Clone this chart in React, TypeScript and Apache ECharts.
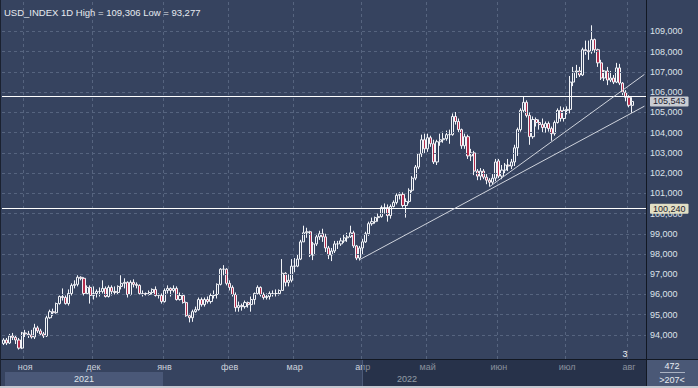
import React, { useEffect, useRef } from 'react';
import * as echarts from 'echarts';

const TITLE = 'USD_INDEX 1D High = 109,306 Low = 93,277';
const MONTH_LABELS = ['', 'ноя', 'дек', 'янв', 'фев', 'мар', 'апр', 'май', 'июн', 'июл', 'авг'];
const YEAR_LABELS = ['2021', '2022'];
const PRICE_TICKS = [94, 95, 96, 97, 98, 99, 100, 101, 102, 103, 104, 105, 106, 107, 108, 109];
const LEVEL_HIGH = 105.79;
const LEVEL_LOW = 100.24;
const BID = 105.543;
// trend lines: [barIndex, price] pairs
const TREND_LOWER = [[115, 97.72], [207, 105.31]];
const TREND_UPPER = [[157, 101.33], [207, 106.88]];
const PAD_BARS = 4;
const BOTTOM_BADGE = ['472', '>207<'];
const SCALE_MARK = '3';

// each bar: [open, close, low, high]
const BARS_OCT = [
  [93.58, 93.75, 93.5, 93.84], [93.75, 93.6, 93.5, 93.85], [93.6, 93.95, 93.55, 94.05],
  [93.95, 93.88, 93.75, 94.1], [93.88, 93.75, 93.55, 94.0], [93.75, 93.35, 93.277, 93.85],
  [93.35, 94.1, 93.3, 94.15],
];
const BARS_NOV = [
  [94.1, 94.05, 93.9, 94.25], [94.05, 94.0, 93.85, 94.2], [94.0, 93.9, 93.82, 94.25],
  [93.9, 94.35, 93.8, 94.55], [94.35, 94.2, 94.1, 94.45], [94.2, 94.05, 93.95, 94.3],
  [94.05, 93.95, 93.85, 94.15], [93.95, 94.85, 93.9, 94.95], [94.85, 95.15, 94.8, 95.25],
  [95.15, 95.1, 94.95, 95.3], [95.1, 95.55, 95.05, 95.6], [95.55, 95.9, 95.5, 95.95],
  [95.9, 95.85, 95.7, 96.3], [95.85, 95.55, 95.5, 95.95], [95.55, 96.05, 95.45, 96.25],
  [96.05, 96.45, 95.95, 96.55], [96.45, 96.5, 96.3, 96.7], [96.5, 96.85, 96.4, 96.95],
  [96.85, 96.8, 96.7, 96.9], [96.8, 96.05, 95.95, 96.85], [96.05, 96.35, 96.0, 96.45],
  [96.35, 95.95, 95.55, 96.45],
];
const BARS_DEC = [
  [95.95, 96.05, 95.75, 96.4], [96.05, 96.15, 95.85, 96.25], [96.15, 96.15, 95.9, 96.35],
  [96.15, 96.3, 96.05, 96.7], [96.3, 95.9, 95.85, 96.4], [95.9, 96.35, 95.85, 96.45],
  [96.35, 96.15, 95.95, 96.45], [96.15, 96.1, 96.0, 96.4], [96.1, 96.4, 96.0, 96.45],
  [96.4, 96.55, 96.25, 96.95], [96.55, 96.6, 96.3, 96.8], [96.6, 96.0, 95.85, 96.65],
  [96.0, 96.6, 95.95, 96.7], [96.6, 96.5, 96.35, 96.75], [96.5, 96.45, 96.3, 96.6],
  [96.45, 96.05, 96.0, 96.5], [96.05, 96.05, 95.9, 96.2], [96.05, 96.0, 95.95, 96.1],
  [96.0, 96.1, 95.95, 96.2], [96.1, 96.25, 96.0, 96.3], [96.25, 95.95, 95.9, 96.4],
  [95.95, 95.95, 95.8, 96.05], [95.95, 95.65, 95.55, 96.05],
];
const BARS_JAN = [
  [95.65, 96.2, 95.6, 96.3], [96.2, 96.3, 96.05, 96.45], [96.3, 96.2, 95.9, 96.35],
  [96.2, 96.3, 96.1, 96.45], [96.3, 95.75, 95.7, 96.4], [95.75, 95.95, 95.7, 96.1],
  [95.95, 95.6, 95.55, 96.05], [95.6, 94.95, 94.9, 95.65], [94.95, 94.85, 94.62, 95.05],
  [94.85, 95.15, 94.65, 95.25], [95.15, 95.25, 95.1, 95.4], [95.25, 95.75, 95.2, 95.85],
  [95.75, 95.5, 95.4, 95.85], [95.5, 95.75, 95.4, 95.85], [95.75, 95.65, 95.55, 95.9],
  [95.65, 95.95, 95.55, 96.05], [95.95, 96.0, 95.8, 96.2], [96.0, 96.5, 95.8, 96.55],
  [96.5, 97.25, 96.45, 97.3], [97.25, 97.25, 96.95, 97.45], [97.25, 96.55, 96.45, 97.3],
];
const BARS_FEB = [
  [96.55, 96.35, 96.2, 96.7], [96.35, 96.0, 95.9, 96.45], [96.0, 95.35, 95.15, 96.1],
  [95.35, 95.45, 95.15, 95.65], [95.45, 95.4, 95.2, 95.55], [95.4, 95.6, 95.3, 95.7],
  [95.6, 95.5, 95.35, 95.65], [95.5, 95.75, 95.15, 95.9], [95.75, 96.05, 95.5, 96.1],
  [96.05, 96.35, 96.0, 96.45], [96.35, 96.0, 95.9, 96.4], [96.0, 95.85, 95.75, 96.1],
  [95.85, 95.9, 95.75, 96.05], [95.9, 96.05, 95.75, 96.15], [96.05, 96.05, 95.9, 96.2],
  [96.05, 96.05, 95.9, 96.25], [96.05, 96.2, 95.95, 96.25], [96.2, 97.05, 96.2, 97.75],
  [97.05, 96.6, 96.4, 97.1], [96.6, 96.7, 96.4, 97.0], [96.7, 97.4, 96.6, 97.75],
];
const BARS_MAR = [
  [97.4, 97.4, 97.1, 97.8], [97.4, 97.75, 97.35, 98.0], [97.75, 98.6, 97.7, 98.7],
  [98.6, 99.05, 98.6, 99.4], [99.05, 99.1, 98.8, 99.3], [99.1, 97.95, 97.85, 99.15],
  [97.95, 98.5, 97.7, 98.6], [98.5, 98.85, 98.4, 99.0], [98.85, 99.0, 98.7, 99.15],
  [99.0, 98.85, 98.6, 99.25], [98.85, 98.3, 98.1, 99.0], [98.3, 97.95, 97.75, 98.4],
  [97.95, 98.15, 97.65, 98.3], [98.15, 98.5, 98.05, 98.65], [98.5, 98.5, 98.25, 98.65],
  [98.5, 98.65, 98.4, 98.8], [98.65, 98.8, 98.55, 98.95], [98.8, 98.85, 98.6, 99.05],
  [98.85, 99.05, 98.8, 99.4], [99.05, 98.4, 98.3, 99.15], [98.4, 97.8, 97.7, 98.45],
  [97.8, 98.3, 97.68, 98.4],
];
const BARS_APR = [
  [98.3, 98.6, 97.95, 98.75], [98.6, 99.0, 98.55, 99.1], [99.0, 99.5, 98.9, 99.6],
  [99.5, 99.6, 99.4, 99.8], [99.6, 99.8, 99.5, 99.85], [99.8, 99.85, 99.6, 100.0],
  [99.85, 100.3, 99.8, 100.4], [100.3, 100.3, 100.0, 100.5], [100.3, 99.9, 99.6, 100.45],
  [99.9, 100.35, 99.75, 100.45], [100.35, 100.55, 100.3, 100.65], [100.55, 100.9, 100.45, 101.0],
  [100.9, 100.95, 100.7, 101.05], [100.95, 100.4, 100.3, 101.05], [100.4, 100.6, 99.8, 100.75],
  [100.6, 101.15, 100.5, 101.25], [101.15, 101.75, 101.05, 101.85], [101.75, 102.3, 101.65, 102.4],
  [102.3, 102.95, 102.2, 103.0], [102.95, 103.65, 102.8, 103.9], [103.65, 103.2, 102.95, 103.95],
];
const BARS_MAY = [
  [103.2, 103.75, 103.05, 103.95], [103.75, 103.45, 103.3, 103.85], [103.45, 102.55, 102.45, 103.65],
  [102.55, 103.55, 102.4, 103.65], [103.55, 103.65, 103.35, 103.95], [103.65, 103.7, 103.5, 104.05],
  [103.7, 103.9, 103.6, 104.1], [103.9, 103.9, 103.45, 104.15], [103.9, 104.8, 103.85, 104.95],
  [104.8, 104.55, 104.4, 105.02], [104.55, 104.15, 104.0, 104.7], [104.15, 103.35, 103.2, 104.2],
  [103.35, 103.8, 103.2, 103.95], [103.8, 102.85, 102.7, 103.9], [102.85, 103.0, 102.6, 103.2],
  [103.0, 102.1, 101.9, 103.1], [102.1, 101.85, 101.65, 102.2], [101.85, 102.1, 101.65, 102.25],
  [102.1, 101.8, 101.7, 102.2], [101.8, 101.65, 101.45, 101.95], [101.65, 101.55, 101.33, 101.75],
  [101.55, 101.75, 101.45, 101.95], [101.75, 102.55, 101.6, 102.7],
];
const BARS_JUN = [
  [102.6, 101.85, 101.75, 102.7], [101.85, 102.15, 101.7, 102.4], [102.15, 102.4, 102.0, 102.5],
  [102.4, 102.35, 102.1, 102.7], [102.35, 102.55, 102.2, 102.7], [102.55, 103.25, 102.35, 103.4],
  [103.25, 104.15, 102.85, 104.25], [104.15, 105.1, 104.05, 105.2], [105.1, 105.5, 105.0, 105.78],
  [105.5, 104.85, 104.75, 105.6], [104.85, 103.8, 103.4, 105.0], [103.8, 104.65, 103.7, 104.8],
  [104.65, 104.5, 104.3, 104.75], [104.5, 104.4, 104.15, 104.65], [104.4, 104.25, 104.0, 104.7],
  [104.25, 104.45, 104.0, 104.55], [104.45, 104.2, 104.05, 104.55], [104.2, 103.95, 103.6, 104.3],
  [103.95, 104.5, 103.85, 104.6], [104.5, 105.1, 104.45, 105.2], [105.1, 104.7, 104.55, 105.3],
  [104.7, 105.1, 104.55, 105.25],
];
const BARS_JUL = [
  [105.1, 105.15, 104.9, 105.3], [105.15, 106.5, 104.95, 106.8], [106.5, 107.0, 106.3, 107.25],
  [107.0, 107.05, 106.7, 107.35], [107.05, 106.85, 106.75, 107.25], [106.85, 108.1, 106.8, 108.2],
  [108.1, 108.05, 107.85, 108.55], [108.05, 108.0, 107.6, 108.55], [108.0, 108.6, 107.9, 109.306],
  [108.6, 108.1, 107.95, 108.65], [108.1, 107.45, 107.25, 108.15], [107.45, 106.7, 106.6, 107.6],
  [106.7, 107.05, 106.55, 107.1], [107.05, 106.6, 106.35, 107.25], [106.6, 106.7, 106.5, 107.05],
  [106.7, 106.5, 106.4, 106.85], [106.5, 107.2, 106.45, 107.45], [107.2, 106.45, 106.35, 107.4],
  [106.45, 106.0, 105.85, 106.5], [106.0, 105.75, 105.55, 106.1],
];
const BARS_AUG = [
  [105.75, 105.35, 105.25, 105.85], [105.35, 105.543, 104.98, 105.75],
];

const MONTH_BARS = [BARS_OCT, BARS_NOV, BARS_DEC, BARS_JAN, BARS_FEB, BARS_MAR, BARS_APR, BARS_MAY, BARS_JUN, BARS_JUL, BARS_AUG];

const BG = '#36435f';
const GRID_LINE = '#56647f';
const DIVIDER = '#121823';
const FONT = '"Liberation Sans", Arial, sans-serif';

const categories: string[] = [];
const candles: number[][] = [];
MONTH_BARS.forEach((bars, m) => {
  bars.forEach((b, k) => {
    categories.push(m + '-' + k);
    candles.push(b);
  });
});
for (let j = 0; j < PAD_BARS; j++) categories.push('pad-' + j);

const isMonthStart = (value: string) => {
  const parts = String(value).split('-');
  return parts[0] !== 'pad' && parts[0] !== '0' && parts[1] === '0';
};

const fmtPrice = (v: number) => v.toFixed(3).replace('.', ',');

const trendLineStyle = { color: '#cfd3dc', width: 1, type: 'solid' as const };

function buildOption(): any {
  return {
    animation: false,
    backgroundColor: BG,
    grid: { left: 2, right: 52, top: 2, bottom: 29, containLabel: false },
    xAxis: {
      type: 'category',
      data: categories,
      boundaryGap: true,
      axisLine: { show: true, lineStyle: { color: DIVIDER, width: 1 } },
      axisTick: { show: false },
      axisLabel: {
        interval: (_i: number, v: string) => isMonthStart(v),
        formatter: (v: string) => {
          const p = String(v).split('-');
          return isMonthStart(v) ? MONTH_LABELS[Number(p[0])] : '';
        },
        margin: 3,
        fontSize: 9,
        fontFamily: FONT,
        color: '#ccd2dc',
      },
      splitLine: {
        show: true,
        interval: (_i: number, v: string) => isMonthStart(v),
        lineStyle: { color: GRID_LINE, type: [3, 3], width: 1 },
      },
    },
    yAxis: {
      type: 'value',
      position: 'right',
      min: 92.811,
      max: 110.458,
      splitNumber: 17,
      splitLine: { show: false },
      axisLine: { show: false },
      axisTick: { show: false },
      axisLabel: {
        margin: 4,
        fontSize: 9,
        fontFamily: FONT,
        color: '#dde2ea',
        formatter: (v: number) => {
          const r = Math.round(v);
          return Math.abs(v - r) < 1e-6 && PRICE_TICKS.indexOf(r) >= 0 ? fmtPrice(v) : '';
        },
      },
    },
    series: [
      {
        type: 'line',
        data: [],
        silent: true,
        z: 1,
        markLine: {
          silent: true,
          animation: false,
          symbol: ['none', 'none'],
          label: { show: false },
          lineStyle: { color: GRID_LINE, type: [3, 3], width: 1 },
          emphasis: { disabled: true },
          data: PRICE_TICKS.map((v) => ({ yAxis: v })),
        },
      },
      {
        type: 'candlestick',
        data: candles,
        z: 3,
        barWidth: 2.6,
        silent: true,
        itemStyle: {
          color: BG,
          color0: '#b42c4c',
          borderColor: '#f2f4f8',
          borderColor0: '#f2f4f8',
          borderWidth: 1,
        },
        markLine: {
          silent: true,
          animation: false,
          symbol: ['none', 'none'],
          emphasis: { disabled: true },
          data: [
            { yAxis: LEVEL_HIGH, lineStyle: { color: '#ffffff', width: 1, type: 'solid' }, label: { show: false } },
            {
              yAxis: LEVEL_LOW,
              lineStyle: { color: '#ffffff', width: 1, type: 'solid' },
              label: {
                show: true, position: 'end', formatter: fmtPrice(LEVEL_LOW), distance: 4,
                backgroundColor: '#e2dfc4', color: '#1d2130', fontSize: 9, fontFamily: FONT,
                padding: [1, 3, 0, 3], borderRadius: 1,
              },
            },
            {
              yAxis: BID,
              lineStyle: { color: 'rgba(0,0,0,0)', width: 1, type: 'solid' },
              label: {
                show: true, position: 'end', formatter: fmtPrice(BID), distance: 4,
                backgroundColor: '#c9ccd2', color: '#1d2130', fontSize: 9, fontFamily: FONT,
                padding: [1, 3, 0, 3], borderRadius: 1,
              },
            },
            [
              { coord: TREND_LOWER[0], lineStyle: trendLineStyle, label: { show: false } },
              { coord: TREND_LOWER[1] },
            ],
            [
              { coord: TREND_UPPER[0], lineStyle: trendLineStyle, label: { show: false } },
              { coord: TREND_UPPER[1] },
            ],
          ],
        },
      },
    ],
    graphic: {
      elements: [
        { type: 'rect', z: 0, silent: true, shape: { x: 5, y: 372, width: 158, height: 14 }, style: { fill: '#4a5878' } },
        { type: 'rect', z: 0, silent: true, shape: { x: 647, y: 360, width: 51, height: 26 }, style: { fill: '#4a5876' } },
        {
          type: 'text', z: 10, silent: true, x: 4, y: 12,
          style: { text: TITLE, fill: '#e6eaf0', font: '9.5px ' + FONT, fontSize: 9.5, fontFamily: FONT, textAlign: 'left', align: 'left', textVerticalAlign: 'middle', verticalAlign: 'middle' },
        },
        {
          type: 'text', z: 10, silent: true, x: 84, y: 379,
          style: { text: YEAR_LABELS[0], fill: '#dfe3ea', font: '9px ' + FONT, fontSize: 9, fontFamily: FONT, textAlign: 'center', align: 'center', textVerticalAlign: 'middle', verticalAlign: 'middle' },
        },
        {
          type: 'text', z: 10, silent: true, x: 407, y: 379,
          style: { text: YEAR_LABELS[1], fill: '#dfe3ea', font: '9px ' + FONT, fontSize: 9, fontFamily: FONT, textAlign: 'center', align: 'center', textVerticalAlign: 'middle', verticalAlign: 'middle' },
        },
        { type: 'rect', z: 50, silent: true, shape: { x: 362, y: 360, width: 284, height: 26 }, style: { fill: 'rgba(14,22,38,0.36)' } },
        { type: 'line', z: 51, silent: true, shape: { x1: 362.5, y1: 360, x2: 362.5, y2: 386 }, style: { stroke: '#4c5a78', lineWidth: 1 } },
        {
          type: 'text', z: 10, silent: true, x: 625, y: 354,
          style: { text: SCALE_MARK, fill: '#eef1f5', font: '9px ' + FONT, fontSize: 9, fontFamily: FONT, textAlign: 'center', align: 'center', textVerticalAlign: 'middle', verticalAlign: 'middle' },
        },
        {
          type: 'text', z: 10, silent: true, x: 672, y: 366,
          style: { text: BOTTOM_BADGE[0], fill: '#e8ecf2', font: '9px ' + FONT, fontSize: 9, fontFamily: FONT, textAlign: 'center', align: 'center', textVerticalAlign: 'middle', verticalAlign: 'middle' },
        },
        { type: 'line', z: 10, silent: true, shape: { x1: 660, y1: 372.5, x2: 685, y2: 372.5 }, style: { stroke: '#aab2c2', lineWidth: 1 } },
        {
          type: 'text', z: 10, silent: true, x: 672, y: 380,
          style: { text: BOTTOM_BADGE[1], fill: '#e8ecf2', font: '9px ' + FONT, fontSize: 9, fontFamily: FONT, textAlign: 'center', align: 'center', textVerticalAlign: 'middle', verticalAlign: 'middle' },
        },
        { type: 'line', z: 60, silent: true, shape: { x1: 646.5, y1: 0, x2: 646.5, y2: 386 }, style: { stroke: DIVIDER, lineWidth: 1 } },
        { type: 'line', z: 60, silent: true, shape: { x1: 0, y1: 359.5, x2: 698, y2: 359.5 }, style: { stroke: DIVIDER, lineWidth: 1 } },
        { type: 'rect', z: 60, silent: true, shape: { x: 0, y: 0, width: 1, height: 388 }, style: { fill: '#1a2130' } },
        { type: 'rect', z: 60, silent: true, shape: { x: 0, y: 386, width: 698, height: 2 }, style: { fill: '#c4c8d0' } },
      ],
    },
  };
}

export default function App() {
  const ref = useRef<HTMLDivElement>(null);
  useEffect(() => {
    document.body.style.margin = '0';
    if (!ref.current) return;
    const chart = echarts.init(ref.current, null, { renderer: 'svg' });
    chart.setOption(buildOption());
    return () => chart.dispose();
  }, []);
  return <div ref={ref} style={{ width: 698, height: 388 }} />;
}
